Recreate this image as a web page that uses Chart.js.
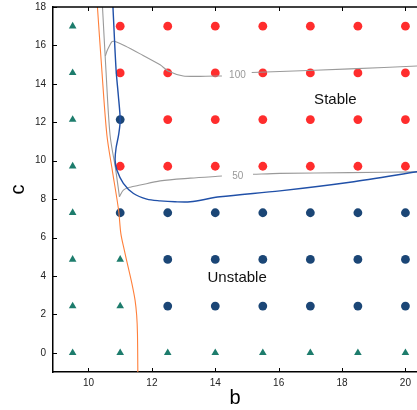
<!DOCTYPE html>
<html><head><meta charset="utf-8">
<style>html,body{margin:0;padding:0;background:#fff;}</style>
<script src="https://cdn.jsdelivr.net/npm/chart.js@4/dist/chart.umd.min.js"></script>
</head><body>
<canvas id="c" width="417" height="410"></canvas>
<script>
// ---- data ----
const bValues = [9.5, 11, 12.5, 14, 15.5, 17, 18.5, 20];
const cValues = [17, 14.57, 12.14, 9.71, 7.29, 4.86, 2.43, 0];
// T = triangle (green), U = unstable (dark blue), S = stable (red); rows follow cValues
const regimeGrid = [
  "TSSSSSSS",
  "TSSSSSSS",
  "TUSSSSSS",
  "TSSSSSSS",
  "TUUUUUUU",
  "TTUUUUUU",
  "TTUUUUUU",
  "TTTTTTTT"
];
const xTicks = [10, 12, 14, 16, 18, 20];
const yTicks = [0, 2, 4, 6, 8, 10, 12, 14, 16, 18];

const orangeB = [10.28, 10.42, 10.58, 10.75, 10.95, 11.02, 11.13, 11.25, 11.37, 11.47, 11.52, 11.545, 11.557];
const orangeC = [18.05, 14.73, 11.34, 9.51, 7.42, 6.22, 5.34, 4.47, 3.6, 2.73, 1.95, 1.01, -1.0];

const blueB = [10.77, 10.87, 10.94, 11.0, 10.95, 10.87, 10.84, 10.895, 11.10, 11.42, 11.84, 12.26, 12.73, 13.21, 14.15, 16.04, 18.25, 20.4];
const blueC = [18.05, 14.73, 13.42, 12.11, 11.34, 10.66, 10.03, 9.51, 8.82, 8.29, 8.0, 7.91, 7.86, 7.86, 8.12, 8.43, 8.88, 9.43];

const grayVertB = [10.44, 10.55, 10.68, 10.86, 10.977];
const grayVertC = [18.05, 14.73, 11.34, 9.51, 8.12];

const c50LeftB = [10.977, 11.10, 11.315, 11.63, 12.26, 13.21, 14.21];
const c50LeftC = [8.12, 8.47, 8.62, 8.73, 8.95, 9.09, 9.20];
const c50RightB = [15.19, 16.04, 18.25, 20.4];
const c50RightC = [9.29, 9.34, 9.38, 9.42];

const c100LeftB = [10.53, 10.60, 10.74, 10.84, 11.16, 11.63, 12.26, 12.51, 12.99, 13.52, 14.21];
const c100LeftC = [15.45, 15.77, 16.20, 16.20, 15.97, 15.56, 14.99, 14.67, 14.41, 14.39, 14.41];
const c100RightB = [15.15, 16.04, 18.25, 20.4];
const c100RightC = [14.59, 14.64, 14.78, 14.93];

// ---- build ----
const FONT = "'Liberation Sans', Arial, Helvetica, sans-serif";
const zip = (bs, cs) => bs.map((b, i) => ({x: b, y: cs[i]}));
function pointsOf(code) {
  const out = [];
  regimeGrid.forEach((row, r) => {
    [...row].forEach((ch, k) => { if (ch === code) out.push({x: bValues[k], y: cValues[r]}); });
  });
  return out;
}
function lineDs(data, color, width, tension) {
  return {type: 'line', data, borderColor: color, borderWidth: width, pointRadius: 0,
          fill: false, tension: tension, order: 0, showLine: true};
}
const datasets = [
  lineDs(zip(blueB, blueC), '#2050a8', 1.4, 0.3),
  lineDs(zip(orangeB, orangeC), '#ff7f3a', 1.1, 0.3),
  lineDs(zip(grayVertB, grayVertC), '#9a9a9a', 1.1, 0.3),
  lineDs(zip(c50LeftB, c50LeftC), '#9a9a9a', 1.1, 0.3),
  lineDs(zip(c50RightB, c50RightC), '#9a9a9a', 1.1, 0.3),
  lineDs(zip(c100LeftB, c100LeftC), '#9a9a9a', 1.1, 0.2),
  lineDs(zip(c100RightB, c100RightC), '#9a9a9a', 1.1, 0.3),
  {data: pointsOf('S'), backgroundColor: '#ff2d2d', borderWidth: 0, pointRadius: 4.4, pointStyle: 'circle', order: 1},
  {data: pointsOf('U'), backgroundColor: '#1b4676', borderWidth: 0, pointRadius: 4.4, pointStyle: 'circle', order: 1},
  {data: pointsOf('T'), backgroundColor: '#1d7c6c', borderWidth: 0, pointRadius: 4.4, pointStyle: 'triangle', order: 1}
];

const decor = {
  id: 'decor',
  afterDraw(chart) {
    const {ctx, chartArea: a, scales: {x, y}} = chart;
    ctx.save();
    ctx.strokeStyle = '#000';
    ctx.lineWidth = 1.5;
    ctx.beginPath();
    ctx.moveTo(a.left - 0.75, a.top); ctx.lineTo(chart.width, a.top);
    ctx.stroke();
    ctx.lineWidth = 1;
    ctx.beginPath();
    x.ticks.forEach(t => {
      const px = Math.round(x.getPixelForValue(t.value)) + 0.5;
      ctx.moveTo(px, a.bottom); ctx.lineTo(px, a.bottom - 4);
      ctx.moveTo(px, a.top); ctx.lineTo(px, a.top + 4);
    });
    y.ticks.forEach(t => {
      const py = Math.round(y.getPixelForValue(t.value)) + 0.5;
      ctx.moveTo(a.left, py); ctx.lineTo(a.left + 4, py);
    });
    ctx.stroke();
    ctx.textAlign = 'center';
    ctx.textBaseline = 'middle';
    ctx.fillStyle = '#111';
    ctx.font = '15px ' + FONT;
    ctx.fillText('Stable', x.getPixelForValue(17.79), y.getPixelForValue(13.16));
    ctx.fillText('Unstable', x.getPixelForValue(14.69), y.getPixelForValue(3.89));
    ctx.fillStyle = '#999';
    ctx.font = '10px ' + FONT;
    ctx.fillText('100', x.getPixelForValue(14.70), y.getPixelForValue(14.47));
    ctx.fillText('50', x.getPixelForValue(14.71), y.getPixelForValue(9.21));
    ctx.restore();
  }
};

new Chart(document.getElementById('c'), {
  type: 'scatter',
  data: {datasets},
  plugins: [decor],
  options: {
    responsive: false,
    animation: false,
    layout: {autoPadding: false, padding: {top: 7, right: 0, bottom: 0, left: 0}},
    plugins: {legend: {display: false}, tooltip: {enabled: false}},
    scales: {
      x: {
        type: 'linear', min: 8.88, max: 20.365,
        afterBuildTicks: s => { s.ticks = xTicks.map(v => ({value: v})); },
        afterFit: s => { s.height = 38; s.paddingLeft = 0; s.paddingRight = 0; },
        grid: {display: false, drawTicks: false},
        border: {display: true, color: '#000', width: 1.5},
        ticks: {padding: 5, color: '#222', font: {size: 10, family: FONT}},
        title: {display: true, text: 'b', color: '#000', font: {size: 20, family: FONT}, padding: {top: 0, bottom: 0}}
      },
      y: {
        type: 'linear', min: -1, max: 18,
        afterBuildTicks: s => { s.ticks = yTicks.map(v => ({value: v})); },
        afterFit: s => { s.width = 53; s.paddingTop = 0; s.paddingBottom = 0; },
        grid: {display: false, drawTicks: false},
        border: {display: true, color: '#000', width: 1.5},
        ticks: {padding: 7, color: '#222', font: {size: 10, family: FONT}},
        title: {display: true, text: 'c', color: '#000', font: {size: 20, family: FONT}, padding: {top: 6, bottom: 0}}
      }
    }
  }
});
</script>
</body></html>
